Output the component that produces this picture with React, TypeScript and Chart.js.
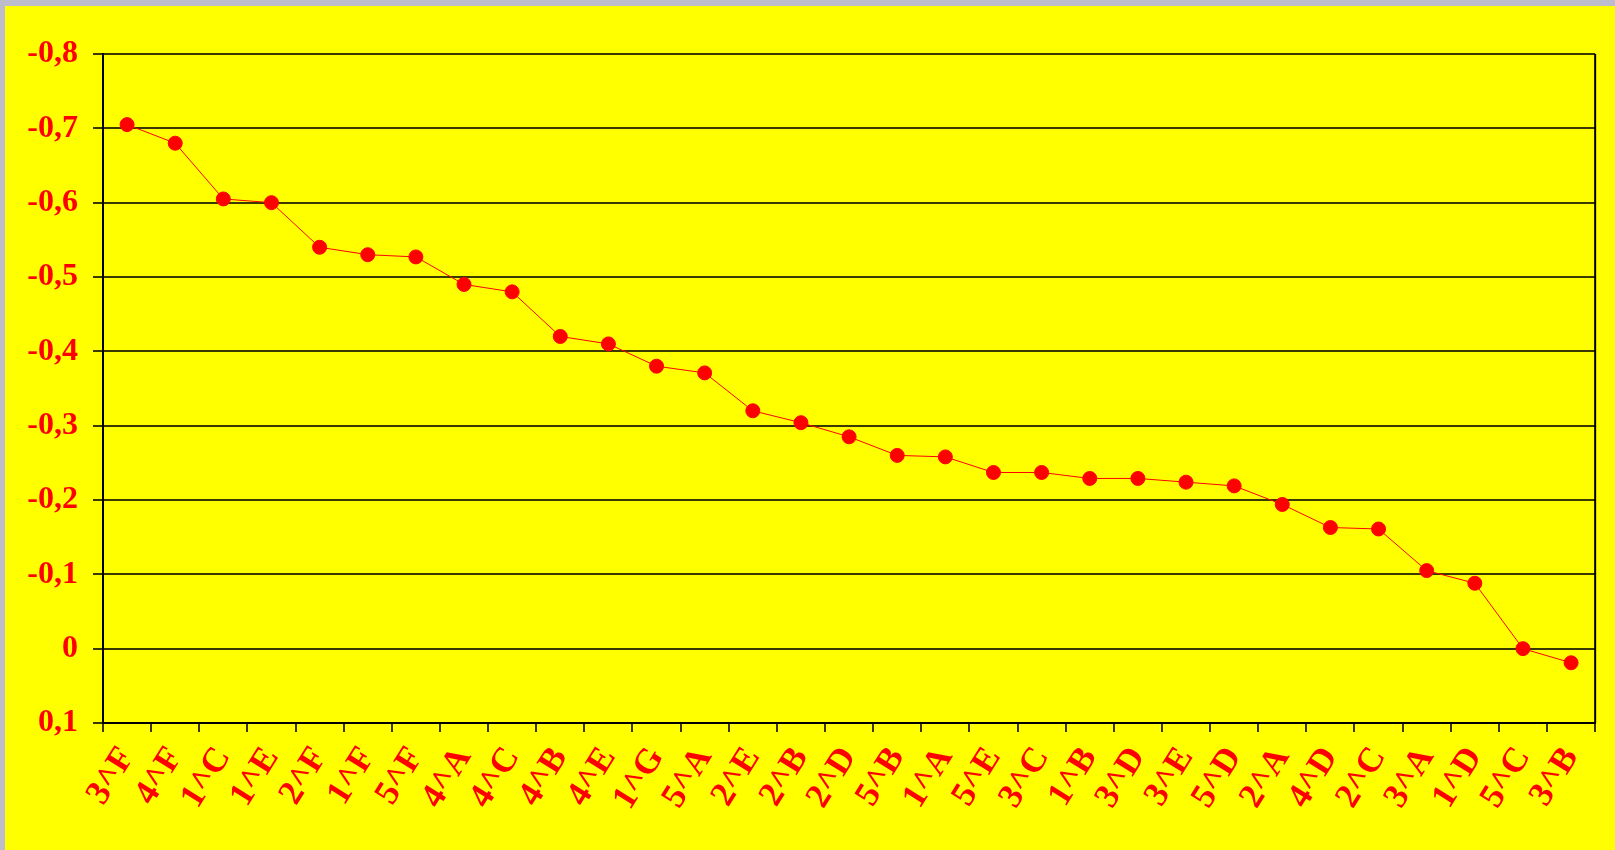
import React, { useEffect, useRef } from "react";
import { Chart, registerables } from "chart.js";

Chart.register(...registerables);

const categories = ["3^F","4^F","1^C","1^E","2^F","1^F","5^F","4^A","4^C","4^B","4^E","1^G","5^A","2^E","2^B","2^D","5^B","1^A","5^E","3^C","1^B","3^D","3^E","5^D","2^A","4^D","2^C","3^A","1^D","5^C","3^B"];
const values = [-0.705,-0.68,-0.605,-0.6,-0.54,-0.53,-0.527,-0.49,-0.48,-0.42,-0.41,-0.38,-0.371,-0.32,-0.304,-0.285,-0.26,-0.258,-0.237,-0.237,-0.229,-0.229,-0.224,-0.219,-0.194,-0.163,-0.161,-0.105,-0.088,0.0,0.019];
const yMin = -0.8;
const yMax = 0.1;
const yStep = 0.1;

const RED = "#ff0000";
const FONT = "'Liberation Serif', 'Times New Roman', serif";

const fmt = (v: number) => {
  const r = Math.round(v * 10) / 10;
  if (r === 0) return "0";
  return String(r).replace(".", ",");
};

const rightBorder = {
  id: "rightBorder",
  afterDraw(chart: any) {
    const { ctx, chartArea } = chart;
    ctx.save();
    ctx.strokeStyle = "#000";
    ctx.lineWidth = 2;
    ctx.beginPath();
    ctx.moveTo(chartArea.right, chartArea.top);
    ctx.lineTo(chartArea.right, chartArea.bottom);
    ctx.stroke();
    ctx.restore();
  },
};

export default function App() {
  const ref = useRef<HTMLCanvasElement>(null);
  useEffect(() => {
    if (!ref.current) return;
    const chart = new Chart(ref.current, {
      type: "line",
      data: {
        labels: categories,
        datasets: [
          {
            data: values,
            borderColor: RED,
            borderWidth: 1,
            backgroundColor: RED,
            pointBackgroundColor: RED,
            pointBorderColor: RED,
            pointRadius: 7,
            pointBorderWidth: 1,
            fill: false,
            tension: 0,
          },
        ],
      },
      options: {
        animation: false,
        responsive: false,
        maintainAspectRatio: false,
        layout: { padding: { top: 48, right: 18, left: 0, bottom: 0 } },
        plugins: { legend: { display: false }, tooltip: { enabled: false } },
        scales: {
          x: {
            offset: true,
            grid: {
              offset: true,
              drawOnChartArea: false,
              drawTicks: true,
              tickLength: 9,
              color: "#3a3a00",
              lineWidth: 2,
            },
            border: { display: true, color: "#000", width: 2 },
            ticks: {
              color: RED,
              font: { family: FONT, size: 35, weight: "bold" },
              minRotation: 58,
              maxRotation: 58,
              autoSkip: false,
              padding: 8,
            },
            afterFit: (s: any) => {
              s.height = 127;
            },
          },
          y: {
            reverse: true,
            min: yMin,
            max: yMax,
            grid: {
              color: "#3a3a00",
              lineWidth: 2,
              drawTicks: true,
              tickLength: 10,
            },
            border: { display: true, color: "#000", width: 2 },
            ticks: {
              stepSize: yStep,
              color: RED,
              font: { family: FONT, size: 32, weight: "bold" },
              padding: 15,
              callback: (v: any) => fmt(Number(v)),
            },
            afterFit: (s: any) => {
              s.width = 98;
            },
          },
        },
      },
      plugins: [rightBorder],
    } as any);
    return () => chart.destroy();
  }, []);

  return (
    <div style={{ position: "fixed", left: 0, top: 0, width: 1615, height: 850, background: "#bcbccc" }}>
      <div style={{ position: "absolute", left: 5, top: 6, width: 1610, height: 844, background: "#ffff00" }}>
        <canvas ref={ref} width={1610} height={844} style={{ display: "block", width: 1610, height: 844 }} />
      </div>
    </div>
  );
}
